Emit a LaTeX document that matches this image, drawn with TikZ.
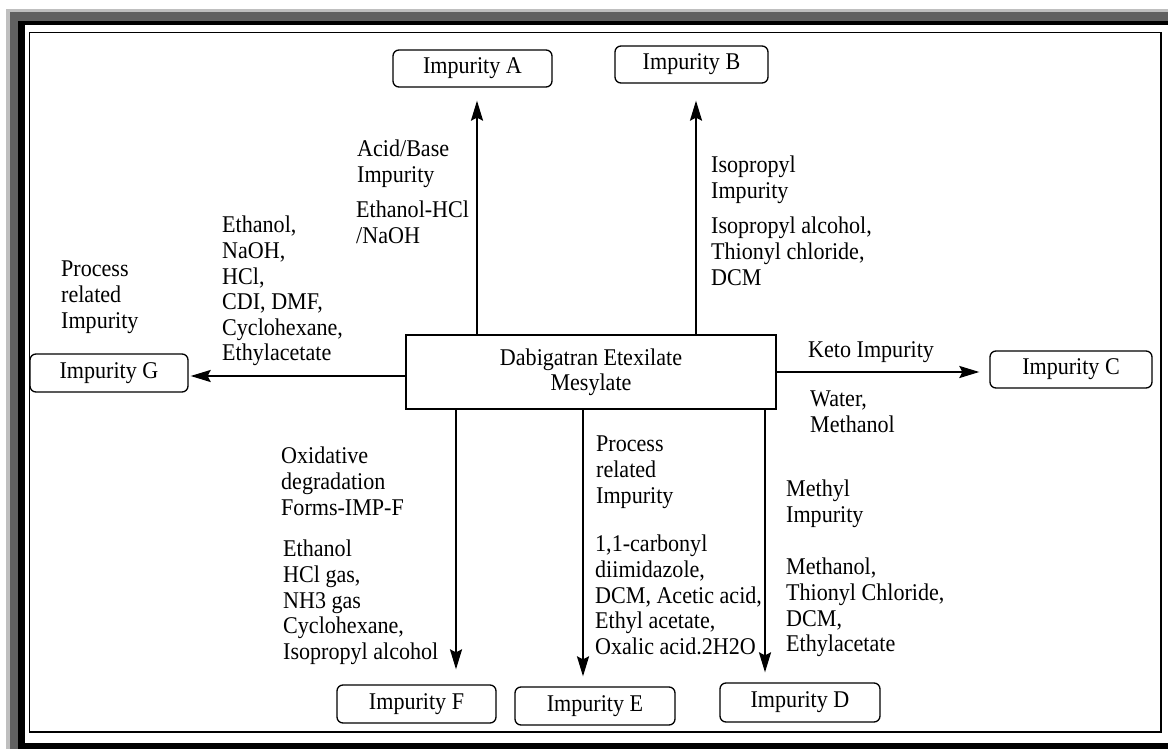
\documentclass[tikz,border=0pt]{standalone}
\usepackage{fontspec}
\setmainfont[FakeStretch=0.92]{Liberation Serif}
\usetikzlibrary{arrows.meta,calc}
\begin{document}
\begin{tikzpicture}[x=1pt,y=-1pt,
  imp/.style={draw, line width=1.3pt, rounded corners=6pt, inner sep=0pt, font=\fontsize{24}{25.6}\selectfont},
  lbl/.style={anchor=north west, inner sep=0pt, align=left, font=\fontsize{24}{25.6}\selectfont},
  arr/.style={line width=2pt, -{Stealth[length=20pt,width=12pt,inset=3pt]}}]
\useasboundingbox (0,0) rectangle (1168,749);
\clip (0,0) rectangle (1168,749);
% frame
\fill[black!25] (6,9) rectangle (1180,760);
\fill[black!62] (10,12) rectangle (1180,760);
\fill[black] (18,21) rectangle (1180,760);
\fill[white] (25,25) rectangle (1180,743);
\draw[line width=1.5pt] (29.5,32.5) rectangle (1161,732);
% central node
\node[draw, line width=1.3pt, minimum width=370pt, minimum height=74pt, inner sep=0pt, align=center,
  font=\fontsize{24}{25}\selectfont] (main) at (591,372) {Dabigatran Etexilate\\Mesylate};
% impurity boxes
\node[imp, minimum width=159pt, minimum height=37pt] (impA) at (472.5,68.5) {Impurity A};
\node[imp, minimum width=153pt, minimum height=37pt] (impB) at (691.5,64.5) {Impurity B};
\node[imp, minimum width=158pt, minimum height=38pt] (impG) at (109,373) {Impurity G};
\node[imp, minimum width=162pt, minimum height=37pt] (impC) at (1071,369.5) {Impurity C};
\node[imp, minimum width=159pt, minimum height=38pt] (impF) at (416.5,704) {Impurity F};
\node[imp, minimum width=160pt, minimum height=38pt] (impE) at (595,706) {Impurity E};
\node[imp, minimum width=160pt, minimum height=39pt] (impD) at (800,702.5) {Impurity D};
% labels
\node[lbl] (lG1) at (61,261) {Process\\related\\Impurity};
\node[lbl] (lG2) at (222,216) {Ethanol,\\NaOH,\\HCl,\\CDI, DMF,\\Cyclohexane,\\Ethylacetate};
\node[lbl] (lA1) at (357,140) {Acid/Base\\Impurity};
\node[lbl] (lA2) at (356,201) {Ethanol-HCl\\/NaOH};
\node[lbl] (lB1) at (711,156) {Isopropyl\\Impurity};
\node[lbl] (lB2) at (711,217) {Isopropyl alcohol,\\Thionyl chloride,\\DCM};
\node[lbl] (lC1) at (808,341) {Keto Impurity};
\node[lbl] (lC2) at (810,391) {Water,\\Methanol};
\node[lbl] (lF1) at (281,447) {Oxidative\\degradation\\Forms-IMP-F};
\node[lbl] (lF2) at (283,540) {Ethanol\\HCl gas,\\NH3 gas\\Cyclohexane,\\Isopropyl alcohol};
\node[lbl] (lE1) at (596,436) {Process\\related\\Impurity};
\node[lbl] (lE2) at (595,535) {1,1-carbonyl\\diimidazole,\\DCM, Acetic acid,\\Ethyl acetate,\\Oxalic acid.2H2O};
\node[lbl] (lD1) at (786,480) {Methyl\\Impurity};
\node[lbl] (lD2) at (786,558) {Methanol,\\Thionyl Chloride,\\DCM,\\Ethylacetate};
% connectors
\coordinate (aA) at ($(main.north)+(-114,0)$);
\coordinate (aB) at ($(main.north)+(105,0)$);
\coordinate (aG) at ($(main.west)+(0,4)$);
\coordinate (aF) at ($(main.south)+(-135,0)$);
\coordinate (aE) at ($(main.south)+(-8,0)$);
\coordinate (aD) at ($(main.south)+(174,0)$);
\draw[arr, shorten >=13pt] (aA) -- (aA |- impA.south);
\draw[arr, shorten >=17pt] (aB) -- (aB |- impB.south);
\draw[arr, shorten >=2pt] (aG) -- (aG -| impG.east);
\draw[arr, shorten >=10pt] (main.east) -- (main.east -| impC.west);
\draw[arr, shorten >=15pt] (aF) -- (aF |- impF.north);
\draw[arr, shorten >=10pt] (aE) -- (aE |- impE.north);
\draw[arr, shorten >=10pt] (aD) -- (aD |- impD.north);
\end{tikzpicture}
\end{document}
